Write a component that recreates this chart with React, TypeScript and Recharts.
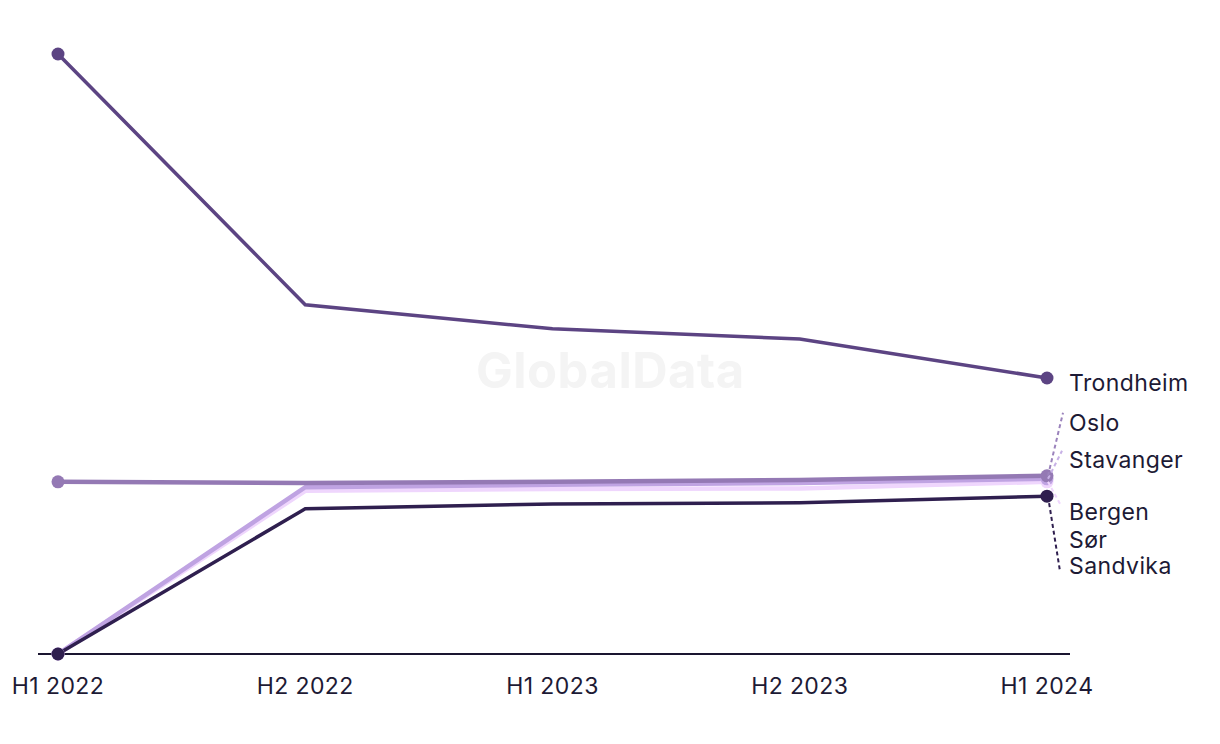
import React from "react";
import { LineChart, Line, XAxis, YAxis, LabelList } from "recharts";

const periods = ["H1 2022", "H2 2022", "H1 2023", "H2 2023", "H1 2024"];
const trondheim = [100, 58.2, 54.2, 52.5, 46.0];
const oslo = [28.7, 28.5, 28.7, 29.0, 29.7];
const stavanger = [0, 27.8, 28.2, 28.5, 29.2];
const bergen = [0, 27.2, 27.5, 27.6, 28.7];
const sorSandvika = [0, 24.2, 25.0, 25.2, 26.3];

const data = periods.map((p, i) => ({
  period: p,
  Trondheim: trondheim[i],
  Oslo: oslo[i],
  Stavanger: stavanger[i],
  Bergen: bergen[i],
  "Sør Sandvika": sorSandvika[i],
}));

const FONT = "Inter, 'Noto Sans', sans-serif";
const TEXT = "#1d1a35";

type SeriesCfg = {
  key: string;
  color: string;
  width: number;
  lines: string[];
  textDy: number;
  leader: [number, number] | null;
  leaderColor: string;
};

const series: SeriesCfg[] = [
  { key: "Bergen", color: "#efd6fd", width: 4.5, lines: ["Bergen"], textDy: 32, leader: [13, 22], leaderColor: "#efd6fd" },
  { key: "Stavanger", color: "#bfa3e2", width: 4.5, lines: ["Stavanger"], textDy: -17, leader: [15, -28], leaderColor: "#c7b1e6" },
  { key: "Oslo", color: "#9479b4", width: 4.5, lines: ["Oslo"], textDy: -51, leader: [16, -63], leaderColor: "#9b83bc" },
  { key: "Sør Sandvika", color: "#2f1f4f", width: 3.5, lines: ["Sør", "Sandvika"], textDy: 46, leader: [13, 75], leaderColor: "#2f1f4f" },
  { key: "Trondheim", color: "#5c4483", width: 3.5, lines: ["Trondheim"], textDy: 7, leader: null, leaderColor: "#5c4483" },
];

const makeDot = (color: string) => (props: any) => {
  const { cx, cy, index } = props;
  if (index !== 0 && index !== periods.length - 1) return <g key={`d${index}`} />;
  return <circle key={`d${index}`} cx={cx} cy={cy} r={6.5} fill={color} stroke="none" />;
};

const makeLabel = (cfg: SeriesCfg) => (props: any) => {
  const { x, y, index } = props;
  if (index !== periods.length - 1) return null;
  const tx = x + 22;
  return (
    <g>
      {cfg.leader && (
        <line
          x1={x + 1}
          y1={y}
          x2={x + cfg.leader[0]}
          y2={y + cfg.leader[1]}
          stroke={cfg.leaderColor}
          strokeWidth={2}
          strokeDasharray="4 3"
        />
      )}
      {cfg.lines.map((t, i) => (
        <text
          key={t}
          x={tx}
          y={y + cfg.textDy + i * 26}
          dominantBaseline="middle"
          fontFamily={FONT}
          fontSize={23}
          letterSpacing={0.4}
          fill={TEXT}
        >
          {t}
        </text>
      ))}
    </g>
  );
};

export default function App() {
  return (
    <div style={{ position: "relative", width: 1212, height: 736 }}>
      <div
        style={{
          position: "absolute",
          left: 468,
          top: 333,
          fontFamily: "Inter, sans-serif",
          fontWeight: 700,
          fontSize: 49,
          color: "#f4f4f4",
          letterSpacing: 0.5,
        }}
      >
        GlobalData
      </div>
      <LineChart
        width={1212}
        height={736}
        data={data}
        margin={{ top: 46, right: 150, bottom: 60, left: 30 }}
        style={{ position: "absolute", left: 0, top: 0 }}
      >
        <XAxis
          dataKey="period"
          padding={{ left: 20, right: 23 }}
          axisLine={{ stroke: "#1a1530", strokeWidth: 2 }}
          tickLine={false}
          tick={{ fill: TEXT, fontSize: 23, fontFamily: FONT, letterSpacing: 0.4 }}
          tickMargin={18}
          interval={0}
        />
        <YAxis hide domain={[0, 100]} />
        {series.map((s) => (
          <Line
            key={s.key}
            dataKey={s.key}
            type="linear"
            stroke={s.color}
            strokeWidth={s.width}
            dot={makeDot(s.color)}
            activeDot={false}
            isAnimationActive={false}
          >
            <LabelList dataKey={s.key} content={makeLabel(s)} />
          </Line>
        ))}
      </LineChart>
    </div>
  );
}
